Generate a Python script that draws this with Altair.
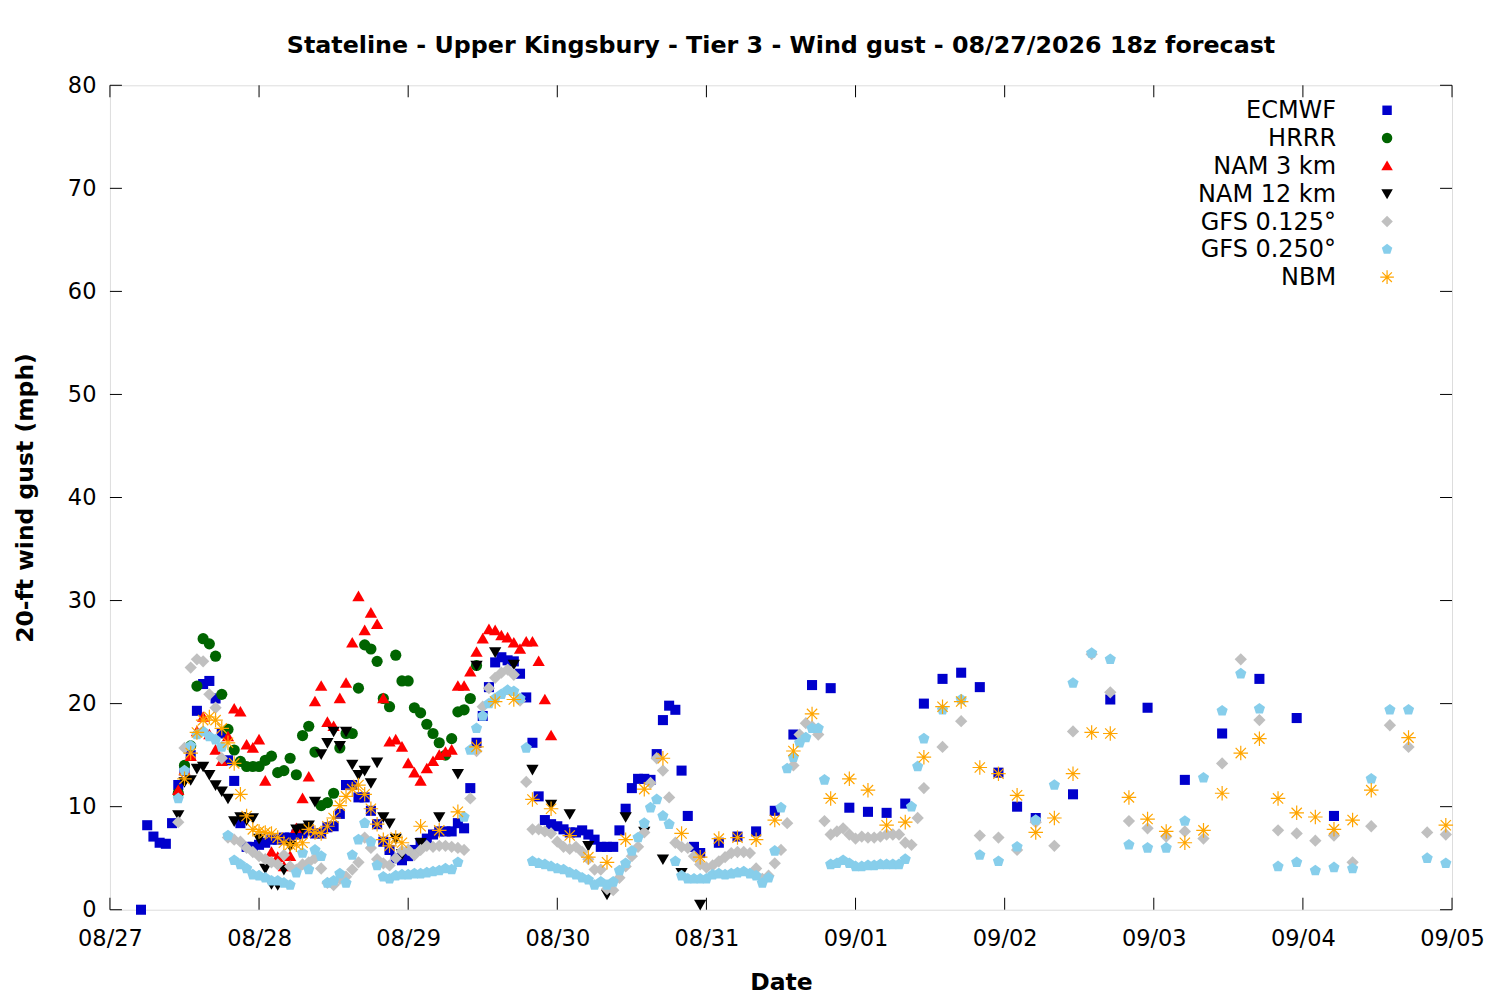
import altair as alt
import pandas as pd

# ---------------- data (hours since 08/27 00:00 local) ----------------
models = ["ECMWF", "HRRR", "NAM 3 km", "NAM 12 km", "GFS 0.125°", "GFS 0.250°", "NBM"]

ecmwf_hours = list(range(5, 96)) + list(range(98, 150, 3)) + list(range(155, 198, 6))
ecmwf = [0.0, 8.2, 7.1, 6.5, 6.4, 8.4, 12.1, 13.5, 15.0, 19.3,
         21.9, 22.2, 20.5, 17.1, 14.5, 12.5, 8.4, 6.1, 6.1, 6.3,
         6.5, 6.8, 6.8, 7.0, 7.0, 7.3, 7.4, 7.7, 7.4, 7.4,
         8.0, 8.1, 9.3, 12.1, 12.1, 10.9, 10.9, 9.6, 8.3, 6.6,
         5.8, 5.0, 4.8, 5.2, 5.8, 6.5, 6.9, 7.3, 7.6, 7.6,
         7.6, 8.4, 7.9, 11.8, 16.2, 18.8, 21.6, 24.0, 24.5, 24.2,
         24.1, 22.9, 20.6, 16.2, 11.0, 8.7, 8.3, 8.1, 7.8, 7.5,
         7.5, 7.7, 7.3, 6.8, 6.1, 6.1, 6.1, 7.7, 9.8, 11.8,
         12.7, 12.7, 12.6, 15.1, 18.4, 19.8, 19.4, 13.5, 9.1, 6.1, 5.5,
         6.5, 7.1, 7.6, 9.6, 17.0, 21.8, 21.5, 9.9, 9.5, 9.4,
         10.3, 20.0, 22.4, 23.0, 21.6, 13.3, 10.0, 8.9,
         11.2, 20.4, 19.6, 12.6, 17.1, 22.4, 18.6, 9.1]

hrrr_hours = list(range(11, 60))
hrrr = [11.3, 14.0, 15.9, 21.7, 26.3, 25.8, 24.6, 20.9, 17.5, 15.5,
        14.4, 13.9, 13.9, 13.9, 14.5, 14.9, 13.3, 13.5, 14.7, 13.1,
        16.9, 17.8, 15.3, 10.1, 10.4, 11.3, 15.7, 17.1, 17.1, 21.5,
        25.7, 25.3, 24.1, 20.5, 19.7, 24.7, 22.2, 22.2, 19.6, 19.1,
        18.0, 17.1, 16.2, 15.0, 16.6, 19.2, 19.4, 20.5, 23.7]

nam3_hours = list(range(11, 72))
nam3 = [11.6, 13.5, 14.9, 17.3, 18.7, 17.0, 15.5, 14.4, 16.8, 19.5,
        19.2, 16.0, 15.7, 16.5, 12.5, 5.6, 5.1, 4.2, 5.2, 7.9,
        10.8, 12.9, 20.2, 21.7, 18.2, 17.8, 20.5, 22.0, 25.9, 30.4,
        27.1, 28.8, 27.7, 20.5, 16.3, 16.5, 15.8, 14.2, 13.3, 12.5,
        13.7, 14.4, 15.0, 15.3, 15.5, 21.7, 21.7, 23.1, 25.0, 26.3,
        27.2, 27.1, 26.6, 26.4, 25.9, 25.3, 26.0, 26.0, 24.1, 20.4, 16.9]

nam12_hours = list(range(11, 48)) + list(range(50, 96, 3))
nam12 = [9.2, 12.4, 12.6, 13.7, 13.9, 13.1, 12.1, 11.5, 10.8, 8.6,
         9.0, 8.7, 8.9, 6.9, 4.0, 2.5, 2.4, 3.9, 6.2, 7.8,
         7.9, 8.2, 10.5, 15.1, 16.2, 17.3, 15.9, 17.3, 14.1, 13.1,
         13.5, 12.3, 14.3, 9.0, 8.4, 6.9, 5.4,
         6.5, 9.0, 13.2, 23.7, 25.0, 23.8, 13.6, 10.2, 9.3, 6.2,
         1.5, 9.0, 7.6, 4.9, 3.6, 0.5]

gfs_hours = list(range(11, 132)) + list(range(134, 216, 3))
gfs125 = [8.5, 15.7, 23.5, 24.3, 24.1, 20.9, 19.6, 14.7, 7.0, 6.8,
          6.6, 6.0, 5.6, 5.2, 4.9, 4.6, 4.4, 5.3, 4.2, 3.9,
          4.4, 4.6, 5.0, 4.0, 2.6, 2.4, 3.0, 3.2, 3.9, 4.6,
          7.0, 6.0, 4.9, 4.5, 4.3, 5.0, 5.7, 5.8, 5.3, 5.8,
          6.2, 6.1, 6.2, 6.2, 6.1, 6.0, 5.8, 10.8, 15.4, 19.7,
          21.5, 22.5, 23.0, 23.3, 22.8, 20.3, 12.4, 7.8, 7.8, 7.6,
          7.4, 6.6, 6.1, 5.9, 6.1, 5.6, 4.9, 3.9, 3.9, 2.0,
          1.9, 3.1, 4.2, 5.2, 6.1, 7.5, 12.3, 14.7, 13.5, 10.9,
          6.5, 6.1, 6.0, 5.2, 4.4, 4.1, 4.3, 4.7, 5.1, 5.5,
          5.6, 5.6, 5.5, 4.0, 3.0, 3.3, 4.5, 5.8, 8.4, 14.0,
          17.0, 18.1, 17.8, 17.0, 8.6, 7.3, 7.6, 7.9, 7.3, 6.9,
          7.1, 7.0, 7.0, 7.1, 7.3, 7.3, 7.3, 6.5, 6.3, 8.9, 11.8,
          15.8, 18.3, 7.2, 7.0, 5.8, 8.5, 6.2, 17.3, 24.8, 21.1,
          8.6, 7.9, 7.1, 7.6, 6.9, 14.2, 24.3, 18.4, 7.7, 7.4,
          6.7, 7.2, 4.6, 8.1, 17.9, 15.8, 7.5, 7.3]
gfs250 = [10.8, 13.5, 15.9, 17.0, 17.3, 16.8, 16.5, 15.8, 7.2, 4.8,
          4.4, 4.0, 3.4, 3.3, 3.1, 2.8, 2.8, 2.6, 2.4, 3.6,
          5.5, 3.9, 5.8, 5.2, 2.6, 2.8, 3.5, 2.6, 5.3, 6.8,
          8.4, 6.6, 4.3, 3.2, 3.0, 3.3, 3.4, 3.4, 3.5, 3.5,
          3.6, 3.7, 3.8, 4.0, 3.9, 4.6, 9.0, 15.5, 17.6, 18.8,
          20.0, 20.5, 20.9, 21.3, 21.2, 20.5, 15.7, 4.7, 4.5, 4.4,
          4.2, 4.0, 3.9, 3.6, 3.4, 3.1, 2.9, 2.4, 2.7, 2.4,
          2.7, 3.8, 4.5, 5.7, 7.0, 8.4, 9.9, 10.7, 9.1, 8.3,
          4.7, 3.3, 3.0, 3.0, 3.0, 3.0, 3.4, 3.5, 3.4, 3.5,
          3.6, 3.7, 3.5, 3.3, 2.6, 3.1, 5.7, 9.9, 13.7, 14.8,
          16.2, 16.7, 17.6, 17.6, 12.6, 4.4, 4.5, 4.8, 4.5, 4.2,
          4.2, 4.3, 4.3, 4.4, 4.4, 4.4, 4.4, 4.9, 10.0, 13.9, 16.6,
          19.4, 20.4, 5.3, 4.7, 6.1, 8.7, 12.1, 22.0, 24.9, 24.3,
          6.3, 6.0, 6.0, 8.6, 12.8, 19.3, 22.9, 19.5, 4.2, 4.6,
          3.8, 4.1, 4.0, 12.7, 19.4, 19.4, 5.0, 4.5]

nbm_hours = list(range(12, 48)) + list(range(50, 204, 3)) + [209, 215]
nbm = [12.7, 15.2, 17.2, 18.4, 18.7, 18.4, 17.6, 16.2, 14.2,
       11.2, 9.1, 7.8, 7.6, 7.5, 7.4, 7.0, 6.5, 6.3, 6.3,
       6.5, 7.8, 7.5, 7.4, 8.1, 8.9, 10.1, 11.0, 11.7, 12.1,
       11.2, 9.8, 8.3, 6.8, 6.2, 7.0, 6.5,
       8.1, 7.7, 9.5, 15.8, 20.2, 20.4, 10.7, 9.8, 7.2, 5.1,
       4.6, 6.8, 11.7, 14.7, 7.4, 5.1, 6.9, 7.0, 6.8, 8.7,
       15.4, 19.0, 10.8, 12.7, 11.6, 8.2, 8.5, 14.8, 19.7, 20.2,
       13.8, 13.2, 11.1, 7.5, 8.9, 13.2, 17.2, 17.1, 10.9, 8.8,
       7.6, 6.5, 7.7, 11.3, 15.2, 16.6, 10.8, 9.4, 9.0, 7.8,
       8.7, 11.6,
       16.7, 8.2]

date_labels = ["08/27", "08/28", "08/29", "08/30", "08/31", "09/01", "09/02", "09/03", "09/04", "09/05"]
tick_hours = [0, 24, 48, 72, 96, 120, 144, 168, 192, 216]
y_ticks = [0, 10, 20, 30, 40, 50, 60, 70, 80]

series = [(ecmwf_hours, ecmwf), (hrrr_hours, hrrr), (nam3_hours, nam3), (nam12_hours, nam12),
          (gfs_hours, gfs125), (gfs_hours, gfs250), (nbm_hours, nbm)]

rows = []
for k, (name, (hrs, vals)) in enumerate(zip(models, series)):
    assert len(hrs) == len(vals), (name, len(hrs), len(vals))
    for h, v in zip(hrs, vals):
        rows.append({"model": name, "hour": h, "gust": v, "k": k})
df = pd.DataFrame(rows)
legend_df = pd.DataFrame({"model": models, "row": list(range(len(models)))})

# ---------------- styling ----------------
W, H = 1343, 825
FONT = "DejaVu Sans"
colors = ["#0000cc", "#006400", "#ff0000", "#000000", "#c0c0c0", "#87ceeb", "#ffa500"]
strokes = ["transparent"] * 6 + ["#ffa500"]
SQUARE = "M-0.9,-0.9H0.9V0.9H-0.9Z"
CIRCLE = "circle"
TRI_UP = "M0,-1.05L1.1,0.85L-1.1,0.85Z"
TRI_DN = "M0,1.05L1.1,-0.85L-1.1,-0.85Z"
DIAM = "M0,-1.1L1.1,0L0,1.1L-1.1,0Z"
PENT = "M0,-1.05L1.0,-0.32L0.62,0.85L-0.62,0.85L-1.0,-0.32Z"
STAR = "M-1.3,0L1.3,0M0,-1.3L0,1.3M-0.92,-0.92L0.92,0.92M-0.92,0.92L0.92,-0.92"
shapes = [SQUARE, CIRCLE, TRI_UP, TRI_DN, DIAM, PENT, STAR]
MSIZE = 125

x_scale = alt.Scale(domain=[0, 216], nice=False, zero=False)
y_scale = alt.Scale(domain=[0, 80], nice=False)
fill_scale = alt.Scale(domain=models, range=colors)
stroke_scale = alt.Scale(domain=models, range=strokes)
shape_scale = alt.Scale(domain=models, range=shapes)
# legend rows: key column at the upper right, gnuplot style (text, then symbol)
row_scale = alt.Scale(type="point", domain=list(range(len(models))), range=[25, 192], padding=0)
label_expr = "[" + ",".join("'%s'" % d for d in date_labels) + "][round(datum.value/24)]"

points = alt.Chart(df).mark_point(filled=True, opacity=1, strokeWidth=1.2, size=MSIZE).encode(
    x=alt.X("hour:Q", scale=x_scale,
            axis=alt.Axis(values=tick_hours, labelExpr=label_expr, title="Date", grid=False,
                          domain=False, ticks=False, labelFontSize=22.5, labelFont=FONT,
                          labelColor="black", labelPadding=18, labelOverlap=False,
                          labelFlush=False, titleFontSize=23.5, titleFont=FONT,
                          titleFontWeight="bold", titleColor="black", titlePadding=20)),
    y=alt.Y("gust:Q", scale=y_scale,
            axis=alt.Axis(values=y_ticks, title="20-ft wind gust (mph)", grid=False,
                          domain=False, ticks=False, labelFontSize=22.5, labelFont=FONT,
                          labelColor="black", labelPadding=14, titleFontSize=23.5,
                          titleFont=FONT, titleFontWeight="bold", titleColor="black",
                          titlePadding=30)),
    fill=alt.Fill("model:N", scale=fill_scale, legend=None),
    stroke=alt.Stroke("model:N", scale=stroke_scale, legend=None),
    shape=alt.Shape("model:N", scale=shape_scale, legend=None),
    order=alt.Order("k:Q"),
)

key_symbols = alt.Chart(legend_df).mark_point(filled=True, opacity=1, strokeWidth=1.2, size=110).encode(
    x=alt.value(1278),
    y=alt.Y("row:O", scale=row_scale, axis=None),
    fill=alt.Fill("model:N", scale=fill_scale, legend=None),
    stroke=alt.Stroke("model:N", scale=stroke_scale, legend=None),
    shape=alt.Shape("model:N", scale=shape_scale, legend=None),
)
key_labels = alt.Chart(legend_df).mark_text(align="right", baseline="middle", font=FONT,
                                            fontSize=24, color="black", dy=1).encode(
    x=alt.value(1227),
    y=alt.Y("row:O", scale=row_scale, axis=None),
    text="model:N",
)

yt = pd.DataFrame({"gust": y_ticks})
xt = pd.DataFrame({"hour": tick_hours})
tick_style = dict(color="black", strokeWidth=1)
left_t = alt.Chart(yt).mark_rule(**tick_style).encode(
    y=alt.Y("gust:Q", scale=y_scale, axis=None), x=alt.value(0), x2=alt.value(12))
right_t = alt.Chart(yt).mark_rule(**tick_style).encode(
    y=alt.Y("gust:Q", scale=y_scale, axis=None), x=alt.value(W - 12), x2=alt.value(W))
top_t = alt.Chart(xt).mark_rule(**tick_style).encode(
    x=alt.X("hour:Q", scale=x_scale), y=alt.value(0), y2=alt.value(12))
bot_t = alt.Chart(xt).mark_rule(**tick_style).encode(
    x=alt.X("hour:Q", scale=x_scale), y=alt.value(H - 12), y2=alt.value(H))

chart = alt.layer(points, left_t, right_t, top_t, bot_t, key_symbols, key_labels).resolve_scale(
    y="independent"
).properties(
    width=W, height=H,
    title=alt.Title("Stateline - Upper Kingsbury - Tier 3 - Wind gust - 08/27/2026 18z forecast",
                    font=FONT, fontSize=23.8, fontWeight="bold", color="black",
                    anchor="middle", offset=17),
    autosize=alt.AutoSizeParams(type="none"),
    padding={"left": 102, "top": 77, "right": 40, "bottom": 90},
).configure_view(stroke="black", strokeWidth=1.2).configure(background="white")

chart.save("out.html", embed_options={"renderer": "svg", "actions": False})
